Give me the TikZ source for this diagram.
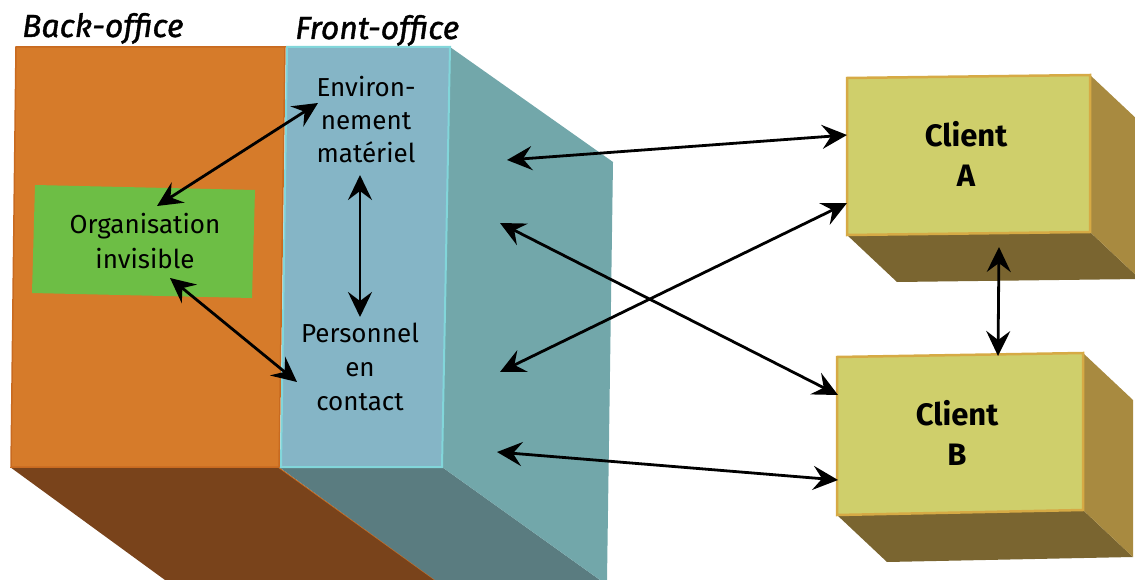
\documentclass[tikz,border=0pt]{standalone}
\usepackage{fontspec}
\setmainfont{Fira Sans}
\newfontfamily\headfont[FakeBold=1.2]{Fira Sans}
\usetikzlibrary{arrows.meta}
\definecolor{orangeF}{HTML}{D67B2A}
\definecolor{orangeE}{HTML}{C86A20}
\definecolor{brownB}{HTML}{79431B}
\definecolor{blueF}{HTML}{85B5C6}
\definecolor{blueE}{HTML}{82D6DA}
\definecolor{tealS}{HTML}{72A7AA}
\definecolor{slateB}{HTML}{5A7C80}
\definecolor{greenO}{HTML}{6DBE45}
\definecolor{cliF}{HTML}{CFCF6B}
\definecolor{cliE}{HTML}{D6AA45}
\definecolor{cliS}{HTML}{A88A40}
\definecolor{cliB}{HTML}{7A6530}
\tikzset{
  biarrow/.style={{Stealth[length=25pt,width=24pt,inset=9pt]}-{Stealth[length=25pt,width=24pt,inset=9pt]}, line width=2.8pt, black},
  lbl/.style={anchor=base, align=center, inner sep=0pt},
  cli/.style={anchor=base, align=center, inner sep=0pt, font=\bfseries\fontsize{31}{40}\selectfont},
  head/.style={anchor=base west, inner sep=0pt, font=\headfont\itshape\fontsize{32}{36}\selectfont}
}
\begin{document}
\begin{tikzpicture}[x=1pt,y=-1pt]
\useasboundingbox (0,0) rectangle (1135,580);
\clip (0,0) rectangle (1135,580);
% back-office block
\fill[brownB] (10,467) -- (278,467) -- (435,580) -- (165,580) -- cycle;
\draw[orangeE, line width=1pt] (278,467) -- (435,580);
\fill[orangeF, draw=orangeE, line width=1.5pt] (16,47) -- (285,47) -- (279,467) -- (11,467) -- cycle;
% front-office block
\fill[slateB] (279,467) -- (442,467) -- (600,580) -- (435,580) -- cycle;
\fill[tealS] (450,47) -- (613,162) -- (607,580) -- (600,580) -- (442,467) -- cycle;
\fill[blueF, draw=blueE, line width=2pt] (287,47) -- (450,47) -- (442,467) -- (281,467) -- cycle;
% organisation box
\fill[greenO] (35,185) -- (255,190) -- (252,298) -- (32,293) -- cycle;
% client A
\fill[cliB] (847,235) -- (1090,232) -- (1140,279) -- (897,282) -- cycle;
\fill[cliS] (1090,75) -- (1140,122) -- (1140,279) -- (1090,232) -- cycle;
\fill[cliF, draw=cliE, line width=2.5pt] (847,78) -- (1090,75) -- (1090,232) -- (847,235) -- cycle;
% client B
\fill[cliB] (837,515) -- (1083,510) -- (1133,557) -- (887,562) -- cycle;
\fill[cliS] (1083,353) -- (1133,400) -- (1133,557) -- (1083,510) -- cycle;
\fill[cliF, draw=cliE, line width=2.5pt] (837,357) -- (1083,353) -- (1083,510) -- (837,515) -- cycle;
% texts (base = baseline of last line)
\node[head] (back) at (22,37) {Back-office};
\node[head] (front) at (295,39) {Front-office};
\node[lbl, font=\fontsize{26}{33}\selectfont] (env) at (366,163) {Environ-\\nement\\matériel};
\node[lbl, font=\fontsize{26}{34}\selectfont] (pers) at (360,410) {Personnel\\en\\contact};
\node[lbl, font=\fontsize{26}{35}\selectfont] (org) at (145,268) {Organisation\\invisible};
\node[cli] (clA) at (966,187) {Client\\A};
\node[cli] (clB) at (957,465) {Client\\B};
% arrow ends
\coordinate (o1) at (157,206); \coordinate (e1) at (318,103);
\coordinate (o2) at (170,278); \coordinate (p1) at (297,382);
\coordinate (e2) at (360,175); \coordinate (p2) at (360,317);
\coordinate (f1) at (507,160); \coordinate (a1) at (847,135);
\coordinate (f2) at (500,223); \coordinate (b1) at (838,395);
\coordinate (f3) at (500,372); \coordinate (a2) at (847,203);
\coordinate (f4) at (497,452); \coordinate (b2) at (838,480);
\coordinate (a3) at (999,247); \coordinate (b3) at (998,356);
\draw[biarrow] (o1) -- (e1);
\draw[biarrow] (o2) -- (p1);
\draw[biarrow] (e2) -- (p2);
\draw[biarrow] (f1) -- (a1);
\draw[biarrow] (f2) -- (b1);
\draw[biarrow] (f3) -- (a2);
\draw[biarrow] (f4) -- (b2);
\draw[biarrow] (a3) -- (b3);
\end{tikzpicture}
\end{document}
